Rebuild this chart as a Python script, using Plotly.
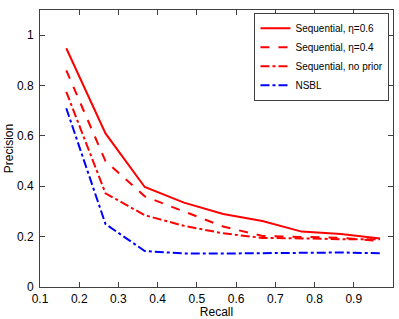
import plotly.graph_objects as go

recall = [0.167, 0.267, 0.367, 0.467, 0.567, 0.667, 0.767, 0.867, 0.967]
seq_06 = [0.948, 0.61, 0.397, 0.335, 0.29, 0.262, 0.22, 0.21, 0.193]
seq_04 = [0.86, 0.50, 0.36, 0.30, 0.24, 0.203, 0.2, 0.195, 0.183]
seq_noprior = [0.775, 0.372, 0.285, 0.243, 0.213, 0.195, 0.193, 0.19, 0.19]
nsbl = [0.71, 0.25, 0.143, 0.133, 0.133, 0.135, 0.137, 0.137, 0.134]

series = [
    ("Sequential, η=0.6", seq_06, "#ff0000", "solid"),
    ("Sequential, η=0.4", seq_04, "#ff0000", "dash"),
    ("Sequential, no prior", seq_noprior, "#ff0000", "dashdot"),
    ("NSBL", nsbl, "#0000ff", "dashdot"),
]

fig = go.Figure()
for name, ys, color, dash in series:
    fig.add_trace(go.Scatter(x=recall, y=ys, mode="lines", name=name,
                             line=dict(color=color, dash=dash, width=2)))

axis_common = dict(showgrid=False, zeroline=False, showline=True, mirror="ticks",
                   linecolor="#404040", linewidth=1, ticks="inside", ticklen=5,
                   tickcolor="#404040", tickfont=dict(size=12, color="black"),
                   automargin=False)

fig.update_layout(
    width=399, height=319,
    margin=dict(l=40, r=6, t=10, b=32),
    paper_bgcolor="white", plot_bgcolor="white",
    font=dict(family="Liberation Sans, Arial, sans-serif", size=12, color="black"),
    xaxis=dict(range=[0.1, 1.0], tickvals=[0.1, 0.2, 0.3, 0.4, 0.5, 0.6, 0.7, 0.8, 0.9, 1.0],
               ticktext=["0.1", "0.2", "0.3", "0.4", "0.5", "0.6", "0.7", "0.8", "0.9", ""],
               ticklabelstandoff=1,
               title=dict(text="Recall", standoff=0, font=dict(size=12)), **axis_common),
    yaxis=dict(range=[0, 1.1], tickvals=[0, 0.2, 0.4, 0.6, 0.8, 1.0],
               ticktext=["0", "0.2", "0.4", "0.6", "0.8", "1"],
               ticklabelstandoff=3,
               title=dict(text="Precision", standoff=0, font=dict(size=12)), **axis_common),
    legend=dict(x=0.99, y=0.99, xanchor="right", yanchor="top",
                bgcolor="white", bordercolor="#404040", borderwidth=1,
                font=dict(size=10), itemwidth=30, tracegroupgap=0),
    showlegend=True,
)

fig.write_html("out.html", config={"displayModeBar": False},
               post_script="document.body.style.margin='0';")
